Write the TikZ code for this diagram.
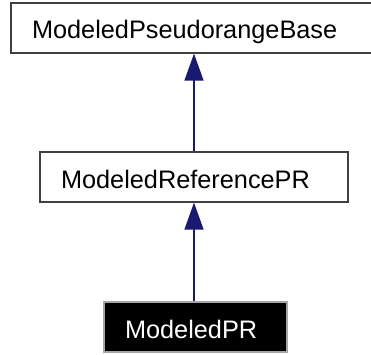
\documentclass[tikz,border=0pt]{standalone}
\usepackage{fontspec}
\setmainfont{Liberation Sans}
\usetikzlibrary{arrows.meta}
\definecolor{edgeblue}{RGB}{25,25,112}
\tikzset{
  classbox/.style={draw=black!75, line width=1.2pt, rectangle, minimum height=50pt,
    inner xsep=21pt, inner ysep=0pt, align=left, text height=22pt, text depth=0pt,
    font=\fontsize{25.3pt}{30pt}\selectfont},
  focusbox/.style={classbox, draw=black!35, fill=black, text=white},
  inherit/.style={draw=edgeblue, line width=1.3pt,
    {Triangle[length=27pt,width=19pt]}-}
}
\begin{document}
\begin{tikzpicture}[x=1pt,y=1pt]
  \useasboundingbox (0,0) rectangle (371,354);
  \node[classbox, text width=324pt] (base) at (194,326) {ModeledPseudorangeBase};
  \node[classbox, text width=266pt] (ref)  at (194,177) {ModeledReferencePR};
  \node[focusbox, text width=141pt] (pr)   at (195.5,27) {ModeledPR};
  \draw[inherit] (base.south -| ref.north) -- (ref.north);
  \draw[inherit] (ref.south) -- (ref.south |- pr.north);
\end{tikzpicture}
\end{document}
